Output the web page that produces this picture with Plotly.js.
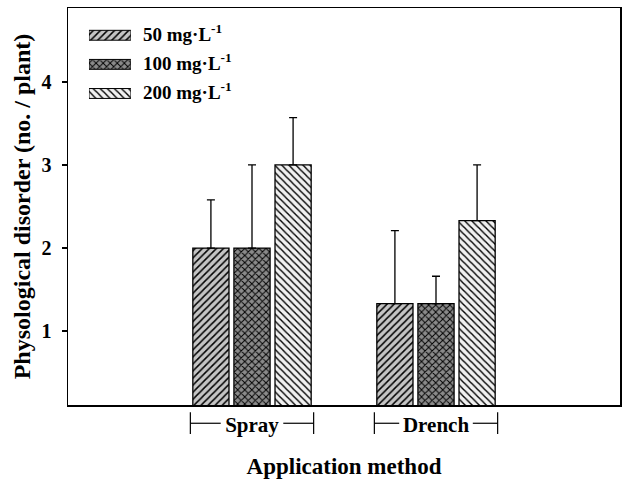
<!DOCTYPE html>
<html>
<head>
<meta charset="utf-8">
<script src="https://cdn.plot.ly/plotly-3.0.1.min.js"></script>
<style>html,body{margin:0;padding:0;background:#fff;}#chart{width:626px;height:481px;}</style>
</head>
<body>
<div id="chart"></div>
<script>
// ---- data ----
const methods = ['Spray', 'Drench'];
const concLabels = ['50 mg·L<sup>-1</sup>', '100 mg·L<sup>-1</sup>', '200 mg·L<sup>-1</sup>'];
const conc50 = [2.0, 1.33];
const conc100 = [2.0, 1.33];
const conc200 = [3.0, 2.33];
const err50 = [0.58, 0.88];
const err100 = [1.0, 0.33];
const err200 = [0.57, 0.67];
const yTicks = [1, 2, 3, 4];

// ---- styles ----
const FONT = 'Liberation Serif';
const patterns = [
  {shape: '/', bgcolor: '#c4c4c4', fgcolor: '#000', size: 5, solidity: 0.3},
  {shape: 'x', bgcolor: '#8a8a8a', fgcolor: '#000', size: 5, solidity: 0.35},
  {shape: '\\', bgcolor: '#f0f0f0', fgcolor: '#000', size: 5, solidity: 0.28}
];
const series = [conc50, conc100, conc200];
const errs = [err50, err100, err200];
const BARGAP = 0.33;

const traces = series.map((vals, i) => ({
  type: 'bar', x: methods, y: vals, name: concLabels[i], showlegend: false,
  marker: {pattern: patterns[i], line: {color: '#000', width: 1.3}},
  error_y: {type: 'data', symmetric: false, array: errs[i], arrayminus: vals.map(() => 0),
            color: '#000', thickness: 1.3, width: 4},
  xaxis: 'x', yaxis: 'y'
}));

// custom legend swatches (own small subplot)
concLabels.forEach((lab, i) => {
  traces.push({
    type: 'bar', orientation: 'h', x: [1], y: [i], base: 0, width: 0.34, offset: -0.17,
    marker: {pattern: patterns[i], line: {color: '#000', width: 1}},
    showlegend: false, hoverinfo: 'skip', xaxis: 'x2', yaxis: 'y2'
  });
});

const annotations = concLabels.map((lab, i) => ({
  xref: 'x2', yref: 'y2', x: 1, y: i, xanchor: 'left', yanchor: 'middle', xshift: 10, yshift: 2,
  text: '<b>' + lab + '</b>', showarrow: false, font: {family: FONT, size: 19, color: '#000'}
}));

// group brackets below x-axis
const half = (1 - BARGAP) / 2;
const textHalf = [0.17, 0.2];
const shapes = [];
methods.forEach((m, i) => {
  const l = i - half, r = i + half;
  const ln = {color: '#000', width: 1.2};
  shapes.push({type: 'line', xref: 'x', yref: 'paper', x0: l, x1: l, y0: -0.018, y1: -0.073, line: ln});
  shapes.push({type: 'line', xref: 'x', yref: 'paper', x0: r, x1: r, y0: -0.018, y1: -0.073, line: ln});
  shapes.push({type: 'line', xref: 'x', yref: 'paper', x0: l, x1: i - textHalf[i], y0: -0.046, y1: -0.046, line: ln});
  shapes.push({type: 'line', xref: 'x', yref: 'paper', x0: i + textHalf[i], x1: r, y0: -0.046, y1: -0.046, line: ln});
});

const layout = {
  width: 626, height: 481,
  margin: {l: 68, r: 6, t: 8, b: 76},
  paper_bgcolor: '#fff', plot_bgcolor: '#fff',
  font: {family: FONT, color: '#000'},
  barmode: 'group', bargap: BARGAP, bargroupgap: 0.12,
  showlegend: false,
  xaxis: {
    type: 'category', range: [-1, 2], showgrid: false, zeroline: false,
    showline: true, linecolor: '#000', linewidth: 1.5, mirror: true,
    ticks: '', ticklabelstandoff: 0,
    tickvals: methods, ticktext: methods.map(m => '<b>' + m + '</b>'),
    tickfont: {family: FONT, size: 21, color: '#000'},
    title: {text: '<b>Application method</b>', font: {family: FONT, size: 23, color: '#000'}, standoff: 22}
  },
  yaxis: {
    range: [0.11, 4.89], tickvals: yTicks, ticktext: yTicks.map(v => '<b>' + v + '</b>'),
    showgrid: false, zeroline: false,
    showline: true, linecolor: '#000', linewidth: 1.5, mirror: true,
    ticks: 'outside', ticklen: 5, tickcolor: '#000', tickwidth: 1.2, ticklabelstandoff: 6,
    tickfont: {family: FONT, size: 20, color: '#000'},
    title: {text: '<b>Physological disorder (no. / plant)</b>', font: {family: FONT, size: 24, color: '#000'}, standoff: 4}
  },
  xaxis2: {domain: [0.038, 0.114], range: [0, 1], anchor: 'y2', visible: false, fixedrange: true},
  yaxis2: {domain: [0.748, 0.968], range: [2.5, -0.5], anchor: 'x2', visible: false, fixedrange: true},
  annotations: annotations,
  shapes: shapes
};

Plotly.newPlot('chart', traces, layout, {displayModeBar: false, staticPlot: true});
</script>
</body>
</html>
